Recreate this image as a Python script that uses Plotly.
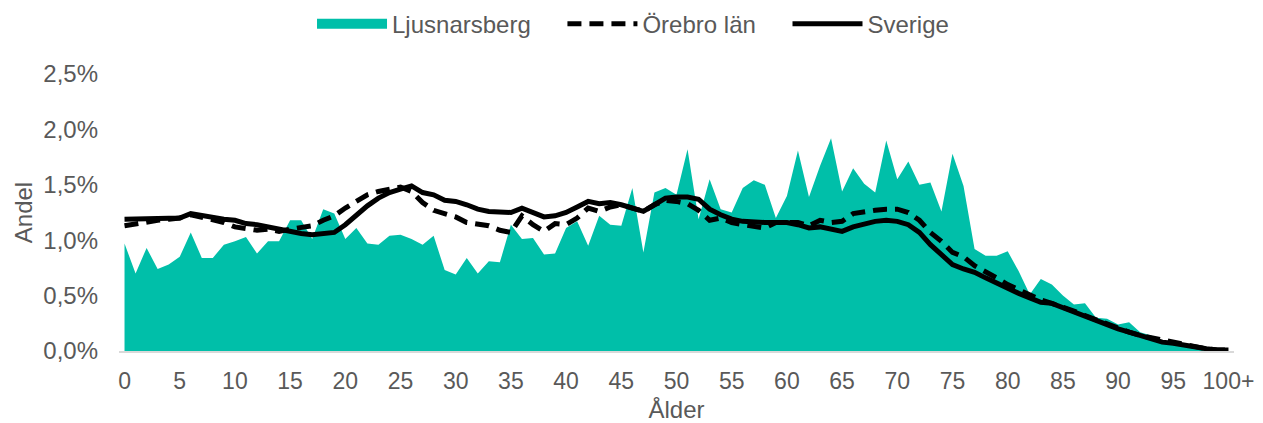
import plotly.graph_objects as go

# age groups 0..99 and 100+
ages = list(range(101))
tick_vals = list(range(0, 101, 5))
tick_text = [str(v) for v in range(0, 100, 5)] + ['100+']
y_vals = [0, 0.5, 1.0, 1.5, 2.0, 2.5]
y_text = ['0,0%', '0,5%', '1,0%', '1,5%', '2,0%', '2,5%']

# share of population per age (percent)
ljusnarsberg = [
    0.97, 0.70, 0.93, 0.74, 0.78, 0.85, 1.07, 0.84, 0.84, 0.96,
    0.99, 1.03, 0.88, 0.99, 0.99, 1.18, 1.18, 1.01, 1.28, 1.24,
    1.01, 1.11, 0.97, 0.96, 1.04, 1.05, 1.01, 0.96, 1.04, 0.73,
    0.69, 0.84, 0.70, 0.81, 0.80, 1.14, 1.01, 1.02, 0.87, 0.88,
    1.11, 1.17, 0.95, 1.22, 1.14, 1.13, 1.47, 0.89, 1.43, 1.47,
    1.41, 1.82, 1.19, 1.55, 1.28, 1.25, 1.47, 1.54, 1.50, 1.20,
    1.40, 1.81, 1.39, 1.67, 1.92, 1.44, 1.65, 1.51, 1.43, 1.90,
    1.55, 1.71, 1.50, 1.52, 1.26, 1.78, 1.49, 0.92, 0.86, 0.86,
    0.90, 0.72, 0.51, 0.65, 0.60, 0.50, 0.42, 0.43, 0.30, 0.29,
    0.24, 0.26, 0.17, 0.14, 0.09, 0.08, 0.05, 0.02, 0.01, 0.01,
    0.00,
]

orebro_lan = [
    1.13, 1.15, 1.17, 1.18, 1.19, 1.20, 1.23, 1.21, 1.19, 1.16,
    1.12, 1.10, 1.09, 1.10, 1.08, 1.10, 1.12, 1.13, 1.18, 1.22,
    1.29, 1.35, 1.41, 1.44, 1.46, 1.48, 1.44, 1.34, 1.27, 1.24,
    1.21, 1.16, 1.14, 1.13, 1.09, 1.07, 1.22, 1.14, 1.08, 1.15,
    1.14, 1.20, 1.29, 1.26, 1.30, 1.32, 1.29, 1.26, 1.32, 1.36,
    1.35, 1.33, 1.27, 1.18, 1.20, 1.16, 1.14, 1.13, 1.11, 1.16,
    1.16, 1.16, 1.13, 1.18, 1.16, 1.17, 1.24, 1.26, 1.27, 1.28,
    1.28, 1.25, 1.18, 1.07, 0.99, 0.89, 0.85, 0.77, 0.72, 0.66,
    0.60, 0.55, 0.50, 0.46, 0.43, 0.40, 0.36, 0.32, 0.28, 0.24,
    0.21, 0.17, 0.14, 0.12, 0.09, 0.07, 0.05, 0.03, 0.02, 0.01,
    0.01,
]

sverige = [
    1.19, 1.19, 1.20, 1.19, 1.20, 1.20, 1.24, 1.22, 1.20, 1.19,
    1.18, 1.15, 1.14, 1.12, 1.10, 1.07, 1.06, 1.05, 1.06, 1.07,
    1.14, 1.23, 1.31, 1.38, 1.43, 1.46, 1.49, 1.43, 1.41, 1.36,
    1.35, 1.32, 1.28, 1.26, 1.26, 1.25, 1.29, 1.25, 1.21, 1.22,
    1.25, 1.30, 1.35, 1.33, 1.34, 1.32, 1.29, 1.26, 1.32, 1.38,
    1.39, 1.39, 1.37, 1.28, 1.23, 1.19, 1.17, 1.16, 1.16, 1.16,
    1.16, 1.14, 1.11, 1.12, 1.10, 1.08, 1.12, 1.15, 1.17, 1.18,
    1.17, 1.14, 1.07, 0.96, 0.87, 0.78, 0.74, 0.71, 0.66, 0.61,
    0.56, 0.52, 0.48, 0.44, 0.43, 0.39, 0.35, 0.31, 0.27, 0.23,
    0.20, 0.17, 0.14, 0.11, 0.08, 0.07, 0.05, 0.03, 0.02, 0.01,
    0.01,
]

teal = '#00BFA9'
grey = '#595959'
font_family = 'Liberation Sans, Arial, sans-serif'
fsize = 24
pad = '\u00a0' * 4  # extra room between legend entries

fig = go.Figure()

# area, legend entry is drawn by a separate thick line so the swatch is a wide bar
fig.add_trace(go.Scatter(x=ages, y=ljusnarsberg, mode='lines', fill='tozeroy',
                         fillcolor=teal, line=dict(color=teal, width=0),
                         name='Ljusnarsberg', showlegend=False, legendgroup='lj'))
fig.add_trace(go.Scatter(x=[None], y=[None], mode='lines', name='Ljusnarsberg' + pad,
                         line=dict(color=teal, width=14), legendgroup='lj'))
fig.add_trace(go.Scatter(x=ages, y=orebro_lan, mode='lines', name='Örebro län' + pad,
                         line=dict(color='black', width=5, dash='14px,8px')))
fig.add_trace(go.Scatter(x=ages, y=sverige, mode='lines', name='Sverige',
                         line=dict(color='black', width=5)))

# page body adds 8px on top/left, so the figure is 8px smaller than the window
fig.update_layout(
    width=1255, height=415,
    margin=dict(l=110.5, r=28.5, t=66, b=72, autoexpand=False),
    paper_bgcolor='white', plot_bgcolor='white',
    font=dict(family=font_family, size=fsize, color=grey),
    legend=dict(orientation='h', x=0.461, xanchor='center', y=1.18, yanchor='middle',
                font=dict(size=fsize, color=grey), itemwidth=70, traceorder='normal'),
    xaxis=dict(
        range=[-0.5, 100.5], tickmode='array', tickvals=tick_vals, ticktext=tick_text,
        tickfont=dict(size=23, color=grey),
        showgrid=False, zeroline=False, showline=True, linecolor='#d9d9d9', linewidth=2,
        ticks='', ticklabelstandoff=8, ticklabeloverflow='allow', automargin=False,
        title=dict(text='Ålder', font=dict(size=fsize, color=grey), standoff=9),
    ),
    yaxis=dict(
        range=[0, 2.5], tickmode='array', tickvals=y_vals, ticktext=y_text,
        showgrid=False, zeroline=False, showline=False, ticks='', ticklabelstandoff=20,
        automargin=False,
        title=dict(text='Andel', font=dict(size=fsize, color=grey), standoff=3),
    ),
)

fig.write_html('out.html')
